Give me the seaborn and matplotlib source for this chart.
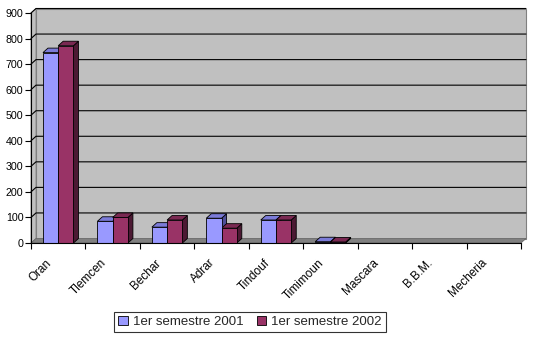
import numpy as np
import pandas as pd
import matplotlib
matplotlib.use("Agg")
import matplotlib.pyplot as plt
import matplotlib.transforms as mtransforms
from matplotlib.patches import Polygon
from matplotlib.lines import Line2D
import seaborn as sns

categories = ["Oran", "Tlemcen", "Bechar", "Adrar", "Tindouf", "Timimoun", "Mascara", "B.B.M.", "Mecheria"]
series_names = ["1er semestre 2001", "1er semestre 2002"]
values_2001 = [745, 85, 62, 97, 90, 5, 0, 0, 0]
values_2002 = [772, 100, 90, 58, 90, 4, 0, 0, 0]
y_ticks = [0, 100, 200, 300, 400, 500, 600, 700, 800, 900]

front_colors = ["#9999FF", "#993366"]
top_colors = ["#7B7BD8", "#7A2952"]
side_colors = ["#4D4D99", "#4C1933"]

sns.set_theme(style="white")
plt.rcParams["font.family"] = ["Liberation Sans", "DejaVu Sans"]

df = pd.DataFrame({
    "Ville": categories * 2,
    "Serie": [series_names[0]] * len(categories) + [series_names[1]] * len(categories),
    "Valeur": values_2001 + values_2002,
})

W, H = 540, 341
fig = plt.figure(figsize=(W / 100, H / 100), dpi=100)
fig.patch.set_facecolor("white")
left_px, right_px, top_px, bottom_px = 31, 521, 13, 243
ax = fig.add_axes([left_px / W, 1 - bottom_px / H, (right_px - left_px) / W, (bottom_px - top_px) / H])

sns.barplot(data=df, x="Ville", y="Valeur", hue="Serie", order=categories,
            hue_order=series_names, palette=front_colors, width=0.56, gap=0,
            edgecolor="black", linewidth=0.6, saturation=1, ax=ax, zorder=5)

ax.set_xlim(-0.5, len(categories) - 0.5)
ax.set_ylim(0, 900)
ax.set_facecolor("none")

# depth offsets in data units
fig.canvas.draw()
px_x = ax.transData.transform((1, 0))[0] - ax.transData.transform((0, 0))[0]
px_y = ax.transData.transform((0, 100))[1] - ax.transData.transform((0, 0))[1]
ddx = 5.0 / px_x
ddy = 4.5 / (px_y / 100)

x0, x1 = -0.5, len(categories) - 0.5
# back wall
ax.add_patch(Polygon([(x0 + ddx, ddy), (x1 + ddx, ddy), (x1 + ddx, 900 + ddy), (x0 + ddx, 900 + ddy)],
                     closed=True, facecolor="#C0C0C0", edgecolor="#808080", lw=0.8, zorder=0, clip_on=False))
# left wall
ax.add_patch(Polygon([(x0, 0), (x0 + ddx, ddy), (x0 + ddx, 900 + ddy), (x0, 900)],
                     closed=True, facecolor="#C0C0C0", edgecolor="#808080", lw=0.6, zorder=0, clip_on=False))
# floor
ax.add_patch(Polygon([(x0, 0), (x1, 0), (x1 + ddx, ddy), (x0 + ddx, ddy)],
                     closed=True, facecolor="#808080", edgecolor="#606060", lw=0.5, zorder=1, clip_on=False))
# gridlines on wall
for v in y_ticks[1:]:
    ax.add_line(Line2D([x0, x0 + ddx, x1 + ddx], [v, v + ddy, v + ddy], color="black", lw=0.8,
                       zorder=2, clip_on=False))

# 3D faces of bars
for ci, cont in enumerate(ax.containers):
    for bar in cont:
        h = bar.get_height()
        bx = bar.get_x()
        bw = bar.get_width()
        if h <= 0:
            bar.set_visible(False)
            continue
        top = Polygon([(bx, h), (bx + bw, h), (bx + bw + ddx, h + ddy), (bx + ddx, h + ddy)], closed=True,
                      facecolor=top_colors[ci], edgecolor="black", lw=0.6, zorder=4, clip_on=False)
        side = Polygon([(bx + bw, 0), (bx + bw + ddx, ddy), (bx + bw + ddx, h + ddy), (bx + bw, h)], closed=True,
                       facecolor=side_colors[ci], edgecolor="black", lw=0.6, zorder=4, clip_on=False)
        ax.add_patch(side)
        ax.add_patch(top)

# axes styling
for s in ["top", "right"]:
    ax.spines[s].set_visible(False)
for s in ["left", "bottom"]:
    ax.spines[s].set_color("black")
    ax.spines[s].set_linewidth(0.8)
    ax.spines[s].set_zorder(6)
ax.set_yticks(y_ticks)
ax.set_yticklabels([str(v) for v in y_ticks], fontsize=7.7, color="black")
ax.tick_params(axis="y", direction="out", length=4, width=0.8, pad=1.5, colors="black", left=True)
ax.set_xticks(range(len(categories)))
ax.set_xticklabels(categories, rotation=45, ha="right", va="top", fontsize=8.5, color="black",
                   rotation_mode="default")
ax.tick_params(axis="x", which="major", length=0, pad=10)
shift = mtransforms.ScaledTranslation(-4 / 100, 0, fig.dpi_scale_trans)
for lbl in ax.get_xticklabels():
    lbl.set_transform(lbl.get_transform() + shift)
ax.set_xticks(np.arange(len(categories) + 1) - 0.5, minor=True)
ax.tick_params(axis="x", which="minor", direction="out", length=4, width=0.8, color="black", bottom=True)
ax.set_xlabel("")
ax.set_ylabel("")
ax.grid(False)

handles, labels = ax.get_legend_handles_labels()
if ax.get_legend() is not None:
    ax.get_legend().remove()
leg = fig.legend(handles, labels, loc="center", bbox_to_anchor=(250 / W, 1 - 322 / H), ncol=2,
                 frameon=True, fancybox=False, edgecolor="black", fontsize=9.5,
                 handlelength=0.7, handleheight=0.7, handletextpad=0.4, columnspacing=1.0,
                 borderpad=0.3, borderaxespad=0)
leg.get_frame().set_linewidth(0.8)
for hnd in leg.legend_handles:
    hnd.set_edgecolor("black")
    hnd.set_linewidth(0.6)

fig.savefig("out.png", dpi=100, facecolor="white")
